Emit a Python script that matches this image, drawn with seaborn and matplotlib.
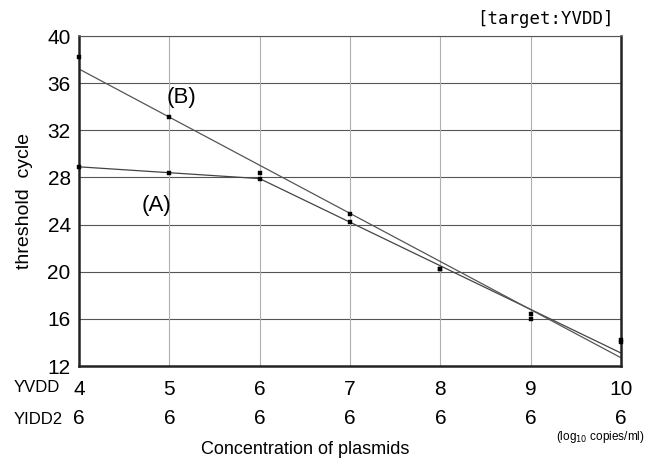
import numpy as np
import pandas as pd
import seaborn as sns
import matplotlib.pyplot as plt

sns.set_style("white")
plt.rcParams['font.family'] = ['Liberation Sans', 'DejaVu Sans']
plt.rcParams['text.color'] = 'black'
plt.rcParams['xtick.color'] = 'black'
plt.rcParams['ytick.color'] = 'black'
plt.rcParams['axes.labelcolor'] = 'black'

# 数据
conc = [4, 5, 6, 7, 8, 9, 10]
yvdd_labels = ['4', '5', '6', '7', '8', '9', '10']
yidd2_labels = ['6', '6', '6', '6', '6', '6', '6']
ct_a = [28.9, 28.4, 27.9, 24.2, 20.2, 16.4, 14.0]
ct_b = [38.2, 33.1, 28.4, 24.9, 20.2, 16.0, 14.2]
# 拟合线
fit_a_x = [4, 5, 6, 10]
fit_a_y = [28.9, 28.4, 27.9, 13.1]
fit_b_x = [4, 10]
fit_b_y = [37.2, 12.7]
yticks = [12, 16, 20, 24, 28, 32, 36, 40]

pts = pd.DataFrame({'conc': conc * 2, 'ct': ct_a + ct_b,
                    'series': ['A'] * len(conc) + ['B'] * len(conc)})

fig = plt.figure(figsize=(6.51, 4.62), dpi=100)
ax = fig.add_axes([79 / 651, 1 - 366 / 462, (621 - 79) / 651, (366 - 36) / 462])

# 网格
for y in yticks[1:]:
    ax.axhline(y, color='#555555', lw=0.8, zorder=0)
for x in conc[1:-1]:
    ax.axvline(x, color='#b0b0b0', lw=0.8, zorder=0)

sns.lineplot(x=fit_a_x, y=fit_a_y, color='#444444', lw=0.9, ax=ax)
sns.lineplot(x=fit_b_x, y=fit_b_y, color='#555555', lw=0.9, ax=ax)
sns.scatterplot(data=pts, x='conc', y='ct', color='black', marker='s', s=12,
                edgecolor='black', legend=False, ax=ax, clip_on=False, zorder=5)

ax.set_xlim(4, 10)
ax.set_ylim(12, 40)
ax.set_yticks(yticks)
ax.set_yticklabels([str(v) for v in yticks], fontsize=15)
ax.set_xticks(conc)
ax.set_xticklabels([a + '\n' + b for a, b in zip(yvdd_labels, yidd2_labels)],
                   fontsize=15, linespacing=1.65)
ax.tick_params(axis='both', length=0, pad=6)
ax.tick_params(axis='x', pad=10)

for s in ['left', 'bottom', 'right']:
    ax.spines[s].set_linewidth(1.8)
    ax.spines[s].set_color('#222222')
ax.spines['top'].set_linewidth(0.8)
ax.spines['top'].set_color('#555555')

ax.set_xlabel('')
ax.set_ylabel('threshold  cycle', fontsize=14, labelpad=10)

ax.text(5.14, 34.8, '(B)', fontsize=16, ha='center', va='center')
ax.text(4.86, 25.6, '(A)', fontsize=16, ha='center', va='center')

fig.text(14 / 651, 1 - 388 / 462, 'YVDD', fontsize=12, va='center', ha='left')
fig.text(14 / 651, 1 - 420 / 462, 'YIDD2', fontsize=12, va='center', ha='left')
fig.text(305 / 651, 1 - 450 / 462, 'Concentration of plasmids', fontsize=13,
         va='center', ha='center')
fig.text(645 / 651, 1 - 437 / 462, '(log$_{10}$ copies/ml)', fontsize=8.5,
         va='center', ha='right')
fig.text(614 / 651, 1 - 19 / 462, '[target:YVDD]', fontsize=12.5,
         va='center', ha='right', family=['DejaVu Sans Mono'])

fig.savefig('out.png', dpi=100)
